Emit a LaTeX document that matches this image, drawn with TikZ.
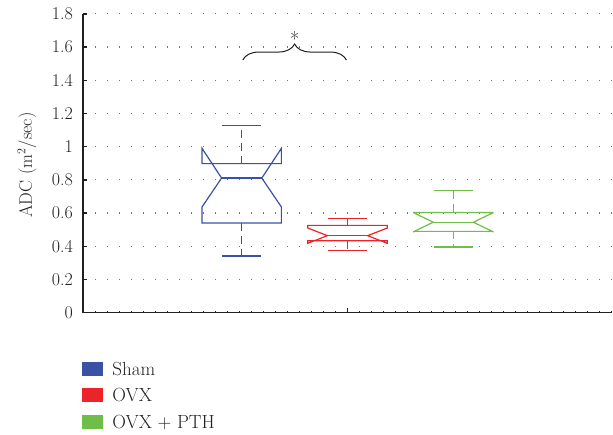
\documentclass[tikz,border=0pt]{standalone}
\usetikzlibrary{positioning,decorations.pathreplacing}
\definecolor{shamblue}{RGB}{58,82,164}
\definecolor{ovxred}{RGB}{236,36,42}
\definecolor{pthgreen}{RGB}{110,190,72}
\definecolor{axisgray}{RGB}{35,31,32}
\begin{document}
\begin{tikzpicture}[x=1pt,y=1pt,
   gridline/.style={black!55,line width=1.2pt,dash pattern=on 1.2pt off 10.8pt},
   axisline/.style={axisgray,line width=1.3pt},
   boxline/.style={line width=1.2pt,line join=miter},
   whisk/.style={line width=1.2pt,dash pattern=on 8pt off 5pt},
   ticklabel/.style={font=\fontsize{18}{20}\selectfont,text=axisgray,anchor=east,inner sep=0pt},
   legtext/.style={font=\fontsize{19}{22}\selectfont,text=axisgray,text height=13pt,text depth=0pt}]
\useasboundingbox (0,0) rectangle (613,434);
\begin{scope}[shift={(83,121.3)},x=529pt,y=166pt]
   \foreach \v in {0.2,0.4,0.6,0.8,1,1.2,1.4,1.6,1.8}
      \draw[gridline] (0,\v) -- (1,\v);
   \foreach \v/\t [count=\n] in {0/0,0.2/0.2,0.4/0.4,0.6/0.6,0.8/0.8,1/1,1.2/1.2,1.4/1.4,1.6/1.6,1.8/1.8}
      {\draw[axisline] (0,\v) -- ++(0:4pt);
       \node[ticklabel,xshift=-10pt] (Y\n) at (0,\v) {\t};}
   \foreach \i in {1,...,44}
      \draw[axisline,line width=0.8pt] (\i*0.022684,0) -- ++(90:2pt);
   \draw[axisline] (0.5,0) -- ++(90:5pt);
   \draw[axisline] (0,1.8) -- (0,0) -- (1,0);
   \foreach \col/\m/\lo/\qa/\na/\md/\nb/\qb/\hi in
        {shamblue/0.3/0.342/0.54/0.637/0.811/0.99/0.898/1.127,
         ovxred/0.5/0.376/0.434/0.418/0.464/0.51/0.526/0.566,
         pthgreen/0.7/0.396/0.49/0.488/0.545/0.602/0.604/0.735}
      {\draw[boxline,\col] (\m-0.075,\qa) -- (\m-0.075,\na) -- (\m-0.038,\md) -- (\m-0.075,\nb) -- (\m-0.075,\qb)
            -- (\m+0.075,\qb) -- (\m+0.075,\nb) -- (\m+0.038,\md) -- (\m+0.075,\na) -- (\m+0.075,\qa) -- cycle;
       \draw[boxline,\col] (\m-0.038,\md) -- (\m+0.038,\md);
       \draw[whisk,\col] (\m,\qb) -- (\m,\hi);
       \draw[whisk,\col] (\m,\qa) -- (\m,\lo);
       \draw[boxline,\col] (\m-0.037,\hi) -- (\m+0.037,\hi) (\m-0.037,\lo) -- (\m+0.037,\lo);}
   \draw[axisline,line width=1pt,decorate,decoration={brace,amplitude=16pt}] (0.302,1.522) -- (0.498,1.522);
   \node[font=\fontsize{20}{22}\selectfont,text=axisgray,anchor=base,inner sep=0pt] (star) at (0.4,1.605) {*};
\end{scope}
\node[rotate=90,font=\fontsize{18}{20}\selectfont,text=axisgray] (ylab) at (27,269) {ADC (m$^2$/sec)};
\foreach \c/\t [count=\n] in {shamblue/Sham,ovxred/OVX,pthgreen/OVX + PTH}
   {\node[fill=\c,minimum width=20.7pt,minimum height=13.7pt,inner sep=0pt] (L\n) at (92.3,65.3-26.6*\n+26.6) {};
    \node[legtext,right=6pt of L\n] (T\n) {\t};}
\end{tikzpicture}
\end{document}
